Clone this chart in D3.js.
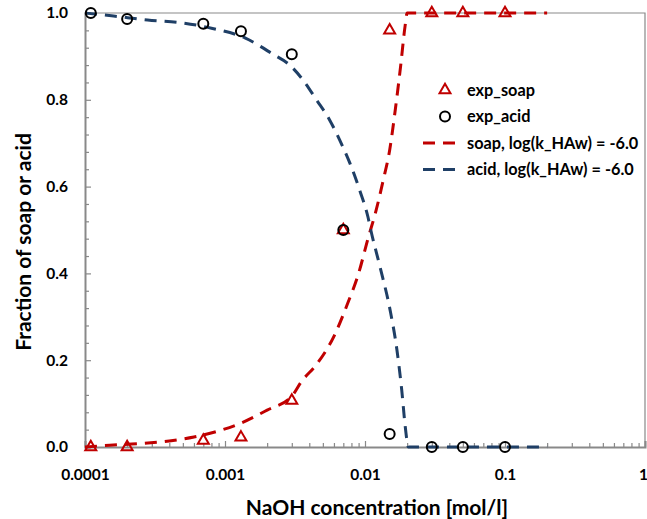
<!DOCTYPE html>
<html>
<head>
<meta charset="utf-8">
<script src="https://cdn.jsdelivr.net/npm/d3@7"></script>
<style>
  body { margin: 0; background: #fff; }
  text { font-family: Lato, "Open Sans", sans-serif; font-weight: bold; fill: #000; }
</style>
</head>
<body>
<svg class="chart"></svg>
<script>
// experimental points
const expConc = [0.00011, 0.0002, 0.0007, 0.0013, 0.003, 0.007, 0.015, 0.03, 0.05, 0.1];
const expSoap = [0.0, 0.0, 0.015, 0.022, 0.107, 0.5, 0.96, 1.0, 1.0, 1.0];
const expAcid = [1.0, 0.986, 0.975, 0.958, 0.905, 0.5, 0.03, 0.0, 0.0, 0.0];

// model curves, log(k_HAw) = -6.0
const soapConc = [0.0001, 0.00015, 0.00025, 0.0004, 0.0006, 0.0009, 0.0013, 0.002, 0.003, 0.0035, 0.0045, 0.006, 0.0075, 0.009, 0.0105, 0.012, 0.0135, 0.015, 0.0165, 0.018, 0.0193, 0.02, 0.05, 0.1, 0.2];
const soapFrac = [0.0, 0.004, 0.008, 0.014, 0.023, 0.037, 0.055, 0.085, 0.117, 0.15, 0.19, 0.255, 0.33, 0.4, 0.48, 0.545, 0.615, 0.684, 0.78, 0.88, 0.968, 1.0, 1.0, 1.0, 1.0];
const acidConc = [0.0001, 0.00016, 0.00028, 0.0005, 0.0008, 0.0014, 0.0022, 0.0029, 0.0036, 0.0045, 0.0056, 0.0066, 0.0078, 0.0092, 0.0105, 0.011, 0.0128, 0.0151, 0.0169, 0.0183, 0.0194, 0.0204, 0.05, 0.2];
const acidFrac = [1.0, 0.993, 0.984, 0.977, 0.965, 0.942, 0.905, 0.88, 0.846, 0.8, 0.753, 0.707, 0.654, 0.59, 0.53, 0.5, 0.415, 0.316, 0.224, 0.131, 0.046, 0.0, 0.0, 0.0];

const xTicks = [0.0001, 0.001, 0.01, 0.1, 1];
const xTickLabels = ["0.0001", "0.001", "0.01", "0.1", "1"];
const yTicks = [0, 0.2, 0.4, 0.6, 0.8, 1.0];

const legendLabels = ["exp_soap", "exp_acid", "soap, log(k_HAw) = -6.0", "acid, log(k_HAw) = -6.0"];

const red = "#c00000";
const blue = "#1f3f66";
const grey = "#898989";

const W = 647, H = 519;
const margin = { top: 13, right: 2, bottom: 72, left: 85 };

const svg = d3.select(".chart").attr("width", W).attr("height", H);

const x = d3.scaleLog().domain([0.0001, 1]).range([margin.left, W - margin.right]);
const y = d3.scaleLinear().domain([0, 1]).range([H - margin.bottom, margin.top]);

// frame (top and right)
svg.append("path")
  .attr("d", `M${x(0.0001)},${y(1)}H${x(1)}V${y(0)}`)
  .attr("fill", "none").attr("stroke", grey).attr("stroke-width", 1.2);

// minor ticks
const xMinor = [];
for (let e = -4; e < 0; e++) for (let k = 2; k <= 9; k++) xMinor.push(k * Math.pow(10, e));
const yMinor = d3.range(0, 1.0001, 0.04).filter(v => Math.abs(v * 5 - Math.round(v * 5)) > 1e-6);

const gx = svg.append("g").attr("transform", `translate(0,${y(0)})`)
  .call(d3.axisBottom(x).tickValues(xTicks).tickFormat((d, i) => xTickLabels[i]).tickSize(-6).tickPadding(22));
gx.selectAll(".tick text").filter(d => d === 1).attr("dx", -2);
svg.append("g").attr("transform", `translate(0,${y(0)})`)
  .call(d3.axisBottom(x).tickValues(xMinor).tickFormat("").tickSize(-4))
  .select(".domain").remove();

const gy = svg.append("g").attr("transform", `translate(${x(0.0001)},0)`)
  .call(d3.axisLeft(y).tickValues(yTicks).tickFormat(d3.format(".1f")).tickSize(-6).tickPadding(17));
svg.append("g").attr("transform", `translate(${x(0.0001)},0)`)
  .call(d3.axisLeft(y).tickValues(yMinor).tickFormat("").tickSize(-4))
  .select(".domain").remove();

svg.selectAll(".domain").attr("stroke", grey).attr("stroke-width", 2);
svg.selectAll(".tick line").attr("stroke", grey).attr("stroke-width", 1.2);
svg.selectAll(".tick text").style("font-size", "15.5px").style("font-family", "Lato, sans-serif").style("font-weight", "bold").attr("fill", "#000");

// axis titles
svg.append("text")
  .attr("x", 377).attr("y", 515)
  .attr("text-anchor", "middle")
  .style("font-size", "21px")
  .text("NaOH concentration [mol/l]");

svg.append("text")
  .attr("transform", "translate(31,242) rotate(-90)")
  .attr("text-anchor", "middle")
  .style("font-size", "21px")
  .text("Fraction of soap or acid");

// model lines
const line = d3.line().x(d => x(d[0])).y(d => y(d[1])).curve(d3.curveMonotoneX);

svg.append("path")
  .datum(soapConc.map((c, i) => [c, soapFrac[i]]))
  .attr("d", line)
  .attr("fill", "none").attr("stroke", red).attr("stroke-width", 3)
  .attr("stroke-dasharray", "12,8");

svg.append("path")
  .datum(acidConc.map((c, i) => [c, acidFrac[i]]))
  .attr("d", line)
  .attr("fill", "none").attr("stroke", blue).attr("stroke-width", 3)
  .attr("stroke-dasharray", "12,8");

// markers
const tri = d3.symbol(d3.symbolTriangle, 52);
svg.append("g").selectAll("path")
  .data(expConc.map((c, i) => [c, expSoap[i]]))
  .join("path")
  .attr("d", tri)
  .attr("transform", d => `translate(${x(d[0])},${y(d[1])})`)
  .attr("fill", "none").attr("stroke", red).attr("stroke-width", 2);

svg.append("g").selectAll("circle")
  .data(expConc.map((c, i) => [c, expAcid[i]]))
  .join("circle")
  .attr("cx", d => x(d[0])).attr("cy", d => y(d[1])).attr("r", 5)
  .attr("fill", "none").attr("stroke", "#000").attr("stroke-width", 2);

// legend
const legend = svg.append("g").attr("transform", "translate(445,90)");
const rowH = 26.5;
legendLabels.forEach((lab, i) => {
  const row = legend.append("g").attr("transform", `translate(0,${i * rowH})`);
  if (i === 0) {
    row.append("path").attr("d", tri).attr("fill", "none").attr("stroke", red).attr("stroke-width", 2);
  } else if (i === 1) {
    row.append("circle").attr("r", 5).attr("fill", "none").attr("stroke", "#000").attr("stroke-width", 2);
  } else {
    row.append("line").attr("x1", -22).attr("x2", 13)
      .attr("stroke", i === 2 ? red : blue).attr("stroke-width", 3)
      .attr("stroke-dasharray", "12,8");
  }
  row.append("text").attr("x", 22).attr("dy", "0.35em").style("font-size", "16.3px").text(lab);
});
</script>
</body>
</html>
